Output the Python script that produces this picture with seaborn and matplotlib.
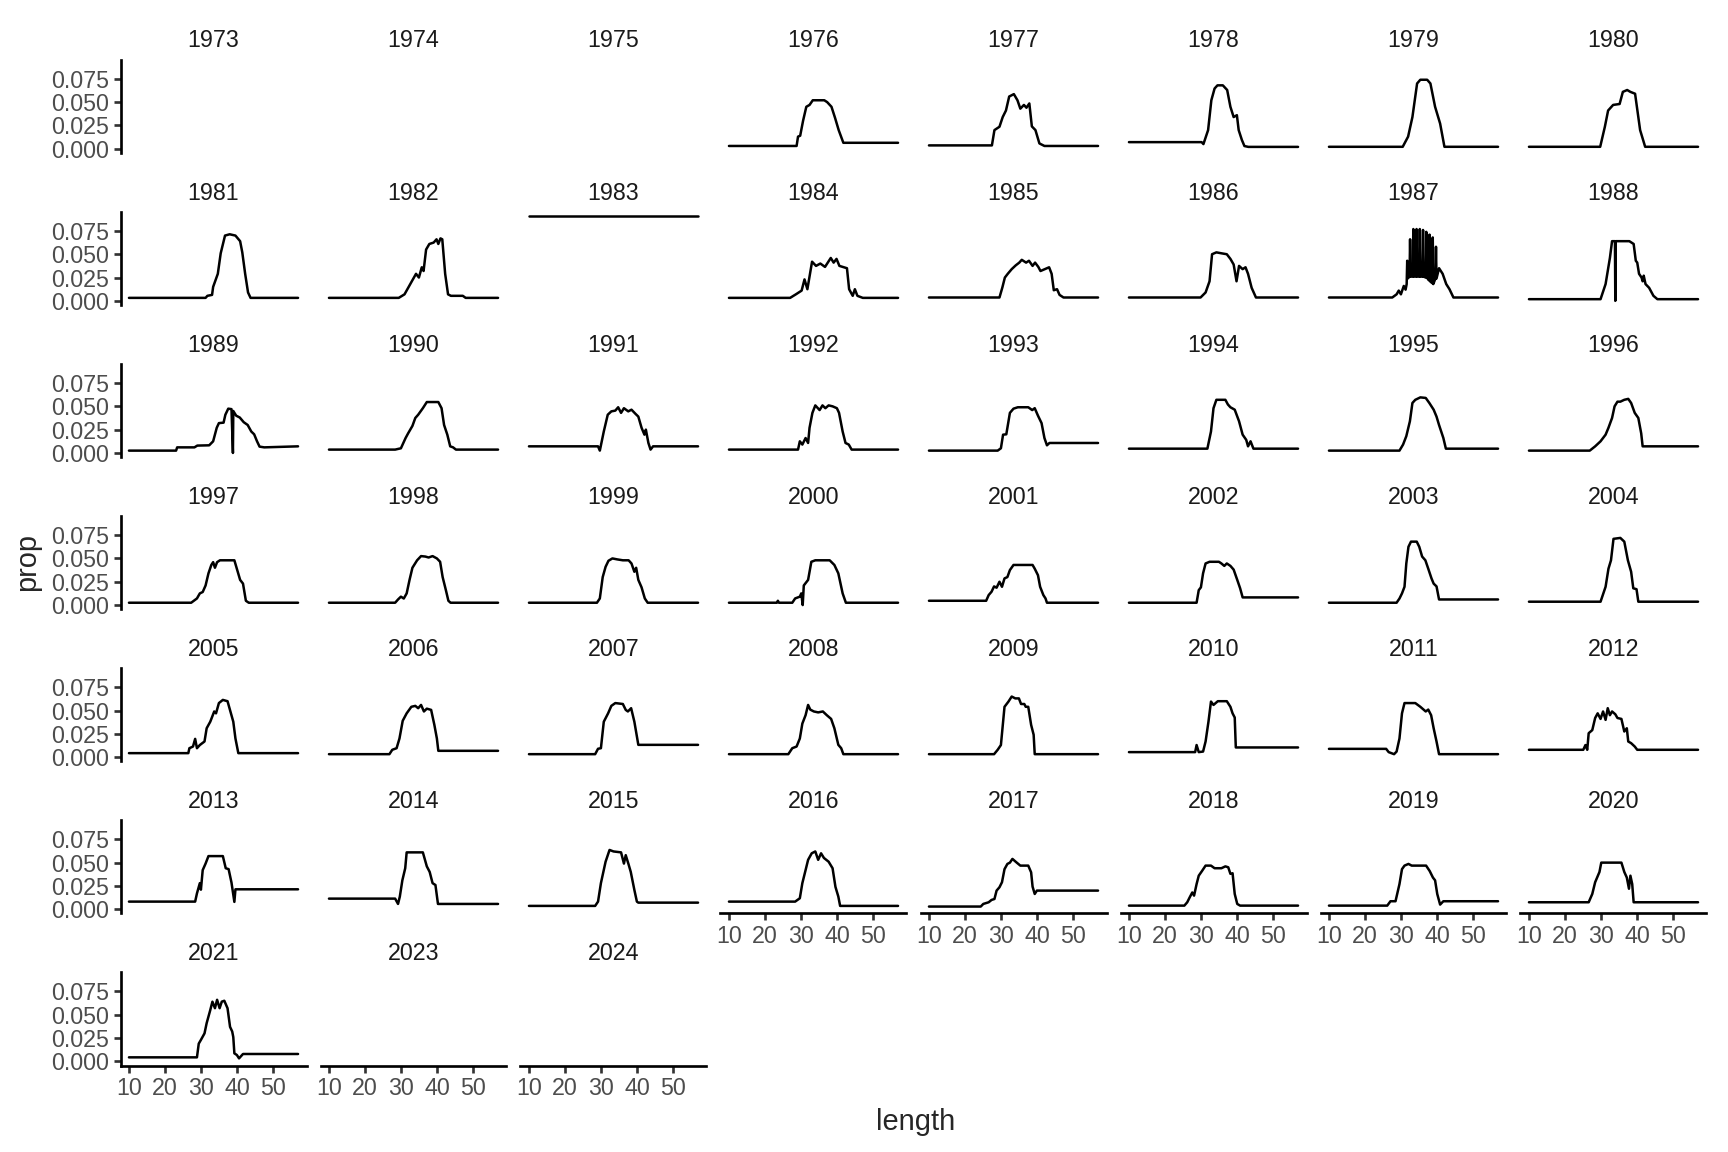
import matplotlib
matplotlib.use("Agg")
import matplotlib.pyplot as plt
import seaborn as sns
import pandas as pd

# panel order (facet_wrap, 8 columns)
years = list(range(1973, 2022)) + [2023, 2024]

x_ticks = [10, 20, 30, 40, 50]
y_ticks = [0.0, 0.025, 0.05, 0.075]
y_tick_labels = ["0.000", "0.025", "0.050", "0.075"]

# (length, prop); 1973-1975, 2023, 2024 have no line
curve_1976 = [(10, .003), (28.8, .003), (29.2, .013), (29.8, .014), (30.6, .030), (31.5, .045), (32.4, .047), (33.3, .052), (36.5, .052), (37.3, .050), (38.5, .045), (39.5, .033), (40.5, .020), (41.8, .0064), (57, .0064)]
curve_1977 = [(10, .0036), (27.5, .0036), (28.2, .020), (29.6, .0236), (30.5, .034), (31.4, .041), (32.3, .056), (33.6, .0586), (34.6, .052), (35.4, .043), (36.4, .047), (37.1, .044), (37.9, .0486), (38.6, .024), (39.6, .020), (40.7, .0057), (42.1, .003), (57, .003)]
curve_1978 = [(10, .0071), (30.2, .0071), (30.7, .005), (32.0, .020), (32.9, .052), (33.8, .0646), (34.6, .068), (36.1, .068), (37.3, .063), (38.2, .045), (39.1, .034), (40.0, .036), (40.5, .020), (41.4, .0093), (42.1, .0029), (43.2, .002), (57, .002)]
curve_1979 = [(10, .0021), (30.5, .0021), (32.0, .013), (33.2, .034), (34.5, .070), (35.4, .074), (37.3, .074), (38.2, .070), (39.5, .045), (40.9, .027), (42.1, .0021), (57, .0021)]
curve_1980 = [(10, .0021), (29.8, .0021), (31.1, .0236), (32.0, .041), (33.4, .047), (35.2, .048), (36.1, .061), (37.3, .063), (38.2, .061), (39.5, .059), (40.9, .020), (42.3, .0021), (57, .0021)]
curve_1981 = [(10, .0032), (31.3, .0032), (31.8, .0054), (33.1, .0064), (33.4, .015), (34.7, .029), (35.5, .051), (36.7, .070), (38.0, .0714), (39.6, .070), (40.9, .064), (41.5, .052), (42.3, .029), (43.1, .009), (43.8, .0032), (57, .0032)]
curve_1982 = [(10, .0032), (29.4, .0032), (31.0, .007), (32.6, .018), (34.2, .029), (35.0, .025), (35.8, .036), (36.3, .032), (37.0, .055), (37.9, .061), (39.1, .0625), (39.9, .066), (40.4, .061), (41.0, .067), (41.5, .066), (42.3, .029), (43.1, .007), (43.9, .0054), (47.2, .0054), (48.0, .0032), (57, .0032)]
curve_1983 = [(10, .0909), (57, .0909)]
curve_1984 = [(10, .0032), (27.0, .0032), (28.6, .007), (30.2, .011), (31.0, .023), (31.8, .0125), (33.1, .042), (34.2, .0375), (35.4, .040), (36.7, .0364), (38.3, .046), (39.1, .041), (39.9, .045), (40.7, .0375), (42.8, .035), (43.4, .0125), (44.4, .0054), (45.0, .0125), (45.7, .0054), (47.2, .0032), (57, .0032)]
curve_1985 = [(10, .0036), (29.6, .0036), (30.4, .0143), (31.1, .025), (31.9, .029), (33.0, .034), (34.1, .038), (35.1, .041), (35.8, .044), (37.0, .041), (37.8, .043), (38.8, .0375), (39.5, .041), (40.4, .0364), (41.0, .032), (42.2, .034), (43.4, .036), (44.1, .029), (44.7, .0114), (45.6, .0125), (46.3, .0064), (47.4, .0036), (57, .0036)]
curve_1986 = [(10, .0036), (29.9, .0036), (31.3, .009), (32.4, .021), (33.1, .050), (34.3, .052), (35.7, .051), (37.2, .050), (38.2, .045), (39.1, .039), (39.9, .021), (40.6, .0375), (41.6, .034), (42.4, .036), (43.1, .029), (44.1, .014), (45.3, .0036), (57, .0036)]
curve_1987 = [(10, .0036), (27.6, .0036), (28.8, .007), (29.4, .011), (30.0, .007), (30.8, .016), (31.3, .012), (31.6, .018), (31.75, .043), (31.9, .024),
              (32.4, .026), (32.55, .066), (32.7, .026), (33.3, .026), (33.45, .077), (33.6, .026), (34.2, .026), (34.35, .077), (34.5, .026),
              (35.1, .026), (35.25, .077), (35.4, .026), (36.0, .026), (36.15, .076), (36.3, .026), (36.9, .025), (37.05, .074), (37.2, .025),
              (37.8, .022), (37.95, .071), (38.1, .021), (38.7, .019), (38.85, .068), (39.0, .018), (39.6, .024), (39.75, .058), (39.9, .024),
              (40.6, .035), (41.6, .029), (42.6, .018), (43.5, .0125), (44.6, .0036), (57, .0036)]
curve_1988 = [(10, .0018), (29.9, .0018), (31.3, .018), (32.5, .046), (33.1, .064), (33.9, .064), (34.0, 0.0), (34.1, .064), (37.9, .064), (39.1, .061), (39.7, .043), (40.1, .041), (40.6, .029), (41.3, .025), (41.6, .021), (41.9, .027), (42.4, .018), (43.4, .014), (44.6, .0054), (45.7, .0018), (57, .0018)]
curve_1989 = [(10, .0025), (23.1, .0025), (23.4, .006), (28.2, .006), (29.0, .0079), (32.3, .0082), (33.4, .0125), (34.4, .027), (35.0, .032), (36.3, .0325), (36.8, .041), (37.6, .0475), (38.5, .047), (38.9, 0.0), (39.0, .045), (39.8, .040), (40.8, .038), (41.9, .033), (43.0, .030), (44.0, .023), (44.8, .020), (45.6, .0125), (46.3, .0068), (47.6, .006), (57, .0071)]
curve_1990 = [(10, .0036), (28.4, .0036), (30.0, .005), (31.3, .016), (32.0, .021), (33.2, .029), (34.0, .0375), (34.8, .041), (36.1, .048), (37.2, .0546), (40.4, .0546), (41.3, .048), (42.0, .030), (42.9, .0196), (43.7, .0071), (44.5, .006), (45.3, .0036), (57, .0036)]
curve_1991 = [(10, .0071), (29.2, .0071), (29.7, .0025), (30.8, .023), (31.9, .041), (32.9, .0446), (34.0, .0454), (34.8, .049), (35.6, .043), (36.4, .048), (37.6, .0446), (38.5, .0464), (39.6, .042), (40.4, .039), (41.3, .027), (42.1, .0196), (42.5, .025), (43.2, .0107), (43.8, .0036), (44.5, .0071), (57, .0071)]
curve_1992 = [(10, .0036), (29.2, .0036), (29.7, .0125), (30.4, .009), (31.3, .016), (32.0, .0107), (32.4, .027), (33.2, .043), (34.0, .051), (35.2, .046), (36.0, .051), (36.8, .048), (37.7, .051), (38.8, .050), (40.0, .048), (40.6, .043), (41.6, .023), (42.4, .0107), (43.3, .009), (44.1, .0036), (57, .0036)]
curve_1993 = [(10, .0025), (29.1, .0025), (30.0, .005), (30.6, .0196), (31.5, .020), (32.5, .043), (33.5, .0475), (34.7, .049), (37.6, .049), (38.7, .046), (39.4, .048), (40.3, .040), (41.3, .032), (42.1, .016), (42.8, .0082), (43.5, .0107), (57, .0107)]
curve_1994 = [(10, .0046), (31.8, .0046), (32.8, .023), (33.5, .048), (34.3, .057), (36.8, .057), (37.5, .052), (38.2, .049), (39.4, .0464), (40.6, .034), (41.6, .0196), (42.6, .014), (43.1, .0071), (43.8, .0125), (44.6, .0046), (57, .0046)]
curve_1995 = [(10, .0025), (29.6, .0025), (30.6, .009), (31.5, .018), (32.5, .034), (33.2, .0536), (34.0, .057), (35.4, .0596), (36.9, .059), (37.9, .0536), (39.1, .0464), (39.9, .039), (40.6, .030), (41.8, .016), (42.5, .0046), (57, .0046)]
curve_1996 = [(10, .0025), (26.9, .0025), (28.4, .0071), (29.9, .0125), (31.3, .0196), (32.1, .027), (33.1, .0375), (33.8, .050), (34.6, .055), (35.4, .055), (36.5, .057), (37.6, .058), (38.4, .0536), (39.4, .043), (40.4, .0375), (41.2, .021), (41.6, .0071), (57, .0071)]
curve_1997 = [(10, .0025), (27.3, .0025), (28.9, .0071), (29.7, .0125), (30.5, .014), (31.3, .021), (32.1, .034), (32.9, .043), (33.4, .046), (33.9, .040), (34.5, .046), (35.3, .048), (39.3, .048), (40.1, .0375), (40.9, .027), (41.7, .023), (42.5, .0046), (43.3, .0025), (57, .0025)]
curve_1998 = [(10, .0025), (28.4, .0025), (29.2, .006), (30.0, .009), (30.8, .007), (31.6, .0125), (32.4, .027), (33.2, .040), (34.5, .048), (35.6, .0525), (36.8, .052), (37.7, .051), (38.8, .0525), (40.0, .050), (40.9, .0464), (41.6, .030), (42.5, .016), (43.2, .0046), (43.8, .0025), (57, .0025)]
curve_1999 = [(10, .0025), (28.9, .0025), (29.7, .0071), (30.5, .030), (31.3, .041), (32.1, .0475), (33.2, .050), (34.5, .049), (36.1, .048), (37.7, .048), (38.5, .0446), (39.3, .0357), (39.8, .040), (40.4, .027), (41.3, .019), (42.2, .0071), (43.0, .0025), (57, .0025)]
curve_2000 = [(10, .0025), (23.3, .0025), (23.6, .0046), (23.9, .0025), (27.6, .0025), (28.4, .0071), (29.7, .009), (30.1, .0125), (30.5, 0.0), (30.8, .021), (32.0, .027), (32.9, .0464), (34.0, .048), (38.0, .048), (39.3, .043), (40.4, .034), (41.6, .0125), (42.5, .0025), (57, .0025)]
curve_2001 = [(10, .0046), (25.9, .0046), (26.6, .0107), (27.4, .0143), (28.1, .020), (28.8, .0186), (29.6, .025), (30.3, .0196), (31.0, .0286), (31.8, .030), (32.5, .0375), (33.5, .043), (38.8, .043), (39.4, .039), (40.3, .032), (40.9, .0196), (41.8, .0107), (42.4, .0071), (42.8, .0025), (57, .0025)]
curve_2002 = [(10, .0025), (28.8, .0025), (29.4, .016), (30.0, .019), (30.6, .034), (31.3, .0446), (32.4, .0464), (35.0, .0464), (35.7, .0446), (36.5, .042), (37.2, .0446), (38.2, .042), (39.1, .038), (40.1, .027), (40.9, .018), (41.6, .0082), (57, .0082)]
curve_2003 = [(10, .0025), (28.8, .0025), (29.6, .007), (30.3, .0125), (31.0, .0196), (31.5, .0446), (32.1, .0625), (32.8, .068), (34.4, .068), (35.1, .0625), (35.9, .052), (36.8, .048), (37.6, .039), (38.5, .0286), (39.1, .023), (39.9, .020), (40.6, .006), (57, .006)]
curve_2004 = [(10, .0036), (29.9, .0036), (31.3, .0196), (32.1, .039), (32.8, .048), (33.5, .071), (35.4, .072), (36.5, .068), (37.5, .048), (38.4, .0357), (39.0, .018), (39.9, .017), (40.4, .0036), (57, .0036)]
curve_2005 = [(10, .0043), (26.5, .0043), (26.8, .0096), (27.8, .0114), (28.4, .0196), (28.9, .0096), (29.7, .013), (31.0, .0168), (31.6, .031), (32.6, .038), (33.7, .049), (34.2, .047), (35.0, .058), (36.1, .0614), (37.4, .060), (38.2, .049), (39.0, .038), (39.6, .020), (40.4, .0043), (57, .0043)]
curve_2006 = [(10, .0032), (26.8, .0032), (27.6, .0079), (28.8, .0096), (29.6, .020), (30.5, .039), (31.6, .047), (32.9, .054), (34.0, .055), (34.8, .0525), (35.6, .056), (36.4, .049), (37.2, .052), (38.4, .0507), (39.3, .0346), (40.0, .020), (40.4, .0068), (57, .0068)]
curve_2007 = [(10, .0032), (28.4, .0032), (29.2, .009), (30.0, .0096), (30.8, .038), (32.0, .047), (32.9, .055), (34.0, .058), (36.1, .057), (36.9, .0507), (37.5, .049), (38.4, .0525), (39.3, .038), (40.1, .020), (40.4, .0132), (57, .0132)]
curve_2008 = [(10, .0032), (26.5, .0032), (27.6, .0096), (28.8, .0114), (29.7, .020), (30.4, .036), (31.3, .045), (32.0, .056), (32.6, .051), (33.6, .049), (34.8, .048), (36.1, .049), (37.2, .045), (38.4, .041), (39.3, .031), (40.4, .0132), (41.2, .0096), (41.8, .0032), (57, .0032)]
curve_2009 = [(10, .0032), (28.1, .0032), (29.1, .0079), (30.0, .013), (31.0, .054), (32.1, .0596), (33.0, .065), (34.0, .063), (35.0, .063), (35.6, .057), (36.5, .057), (36.9, .054), (37.6, .054), (38.4, .0346), (39.1, .024), (39.4, .0032), (57, .0032)]
curve_2010 = [(10, .0054), (28.4, .0054), (28.8, .013), (29.4, .0054), (30.6, .006), (31.3, .0168), (32.1, .038), (32.8, .0596), (33.5, .056), (34.7, .060), (37.2, .060), (38.2, .054), (38.8, .047), (39.4, .0425), (39.7, .0104), (57, .0104)]
curve_2011 = [(10, .0089), (25.9, .0089), (26.6, .0054), (28.1, .0032), (28.8, .006), (29.6, .020), (30.3, .047), (31.0, .058), (34.0, .058), (35.4, .054), (36.9, .049), (37.6, .051), (38.4, .045), (39.1, .031), (39.9, .0168), (40.6, .0032), (57, .0032)]
curve_2012 = [(10, .0079), (25.1, .0079), (25.7, .013), (26.2, .0079), (26.6, .0257), (27.6, .029), (28.4, .042), (29.1, .047), (29.9, .041), (30.6, .049), (31.3, .040), (31.9, .0525), (32.5, .045), (33.1, .049), (34.0, .046), (34.6, .042), (35.7, .041), (36.5, .0275), (37.2, .031), (37.6, .0168), (38.4, .015), (39.4, .0114), (40.1, .0079), (57, .0079)]
curve_2013 = [(10, .0082), (28.4, .0082), (28.9, .017), (29.7, .028), (30.0, .021), (30.5, .042), (31.3, .049), (32.1, .057), (36.1, .057), (36.9, .044), (37.7, .043), (38.5, .0286), (39.3, .0079), (39.6, .0214), (57, .0214)]
curve_2014 = [(10, .0114), (28.4, .0114), (29.2, .0057), (29.7, .0136), (30.4, .031), (31.2, .044), (31.6, .061), (36.1, .061), (37.2, .046), (38.0, .040), (38.8, .028), (39.6, .026), (40.3, .0057), (57, .0057)]
curve_2015 = [(10, .0036), (28.4, .0036), (29.2, .0082), (30.0, .028), (31.3, .051), (32.4, .0636), (33.5, .062), (35.6, .061), (36.4, .049), (36.9, .058), (37.7, .048), (38.3, .040), (39.3, .0207), (40.0, .0082), (40.4, .0071), (57, .0071)]
curve_2016 = [(10, .0082), (28.4, .0082), (29.7, .0118), (30.4, .028), (31.3, .042), (32.0, .053), (33.0, .060), (34.0, .062), (34.8, .053), (35.6, .060), (36.4, .055), (37.7, .051), (38.8, .044), (39.6, .024), (40.4, .0136), (40.9, .0036), (57, .0036)]
curve_2017 = [(10, .0029), (24.4, .0029), (25.1, .0057), (26.6, .0075), (27.4, .010), (28.2, .011), (28.8, .020), (29.6, .0236), (30.3, .029), (31.0, .043), (31.8, .0486), (32.5, .050), (33.2, .054), (34.4, .050), (35.4, .0468), (37.6, .0468), (38.4, .0396), (38.8, .0243), (39.4, .0164), (40.0, .020), (57, .020)]
curve_2018 = [(10, .0039), (25.4, .0039), (26.2, .0075), (26.9, .0129), (27.6, .018), (28.1, .0146), (28.8, .027), (29.4, .036), (30.3, .041), (31.3, .0468), (32.8, .0468), (33.8, .044), (35.7, .044), (36.8, .046), (37.6, .045), (38.2, .038), (38.8, .0386), (39.4, .0164), (40.1, .0057), (40.9, .0039), (57, .0039)]
curve_2019 = [(10, .0039), (26.2, .0039), (27.1, .0086), (28.5, .0086), (29.6, .027), (30.3, .043), (31.0, .0468), (32.1, .0486), (33.0, .0468), (37.0, .0468), (38.0, .041), (38.9, .034), (39.5, .031), (40.1, .0164), (40.9, .005), (41.8, .0086), (57, .0086)]
curve_2020 = [(10, .0075), (26.6, .0075), (27.6, .0164), (28.4, .029), (29.6, .040), (30.1, .050), (35.7, .050), (36.5, .040), (37.2, .034), (37.8, .022), (38.2, .036), (38.7, .027), (39.1, .0075), (57, .0075)]
curve_2021 = [(10, .0043), (28.9, .0043), (29.4, .019), (30.0, .023), (31.0, .030), (31.6, .041), (32.6, .055), (33.2, .064), (33.9, .057), (34.5, .066), (35.2, .057), (35.8, .064), (36.5, .065), (37.4, .057), (38.1, .037), (38.7, .032), (39.0, .026), (39.3, .0086), (40.0, .0068), (40.6, .0032), (41.7, .0079), (57, .0079)]

curves = {
    1976: curve_1976, 1977: curve_1977, 1978: curve_1978, 1979: curve_1979, 1980: curve_1980,
    1981: curve_1981, 1982: curve_1982, 1983: curve_1983, 1984: curve_1984, 1985: curve_1985,
    1986: curve_1986, 1987: curve_1987, 1988: curve_1988, 1989: curve_1989, 1990: curve_1990,
    1991: curve_1991, 1992: curve_1992, 1993: curve_1993, 1994: curve_1994, 1995: curve_1995,
    1996: curve_1996, 1997: curve_1997, 1998: curve_1998, 1999: curve_1999, 2000: curve_2000,
    2001: curve_2001, 2002: curve_2002, 2003: curve_2003, 2004: curve_2004, 2005: curve_2005,
    2006: curve_2006, 2007: curve_2007, 2008: curve_2008, 2009: curve_2009, 2010: curve_2010,
    2011: curve_2011, 2012: curve_2012, 2013: curve_2013, 2014: curve_2014, 2015: curve_2015,
    2016: curve_2016, 2017: curve_2017, 2018: curve_2018, 2019: curve_2019, 2020: curve_2020,
    2021: curve_2021,
}

rows = []
for yr, pts in curves.items():
    for x, y in pts:
        rows.append({"year": yr, "length": x, "prop": y})
df = pd.DataFrame(rows)

sns.set_style("ticks")
plt.rcParams["font.family"] = ["Liberation Sans", "DejaVu Sans"]

W, H, DPI = 1728, 1152, 180
fig, axes = plt.subplots(7, 8, figsize=(W / DPI, H / DPI), dpi=DPI)
panel_w, panel_h = 186, 93.3
fig.subplots_adjust(left=120.5 / W, right=1706.5 / W,
                    top=1 - 59.7 / H, bottom=1 - (59.7 + 6 * 152.1 + panel_h) / H,
                    wspace=14 / panel_w, hspace=(152.1 - panel_h) / panel_h)

ncols = 8
n = len(years)
small = 9.3
for i, ax in enumerate(axes.flat):
    if i >= n:
        ax.remove()
        continue
    yr = years[i]
    sub = df[df["year"] == yr]
    if len(sub):
        sns.lineplot(data=sub, x="length", y="prop", ax=ax, color="black",
                     linewidth=1.0, estimator=None, sort=False)
    ax.set_xlim(7.65, 59.35)
    ax.set_ylim(-0.00455, 0.0955)
    ax.set_xticks(x_ticks)
    ax.set_yticks(y_ticks)
    ax.set_yticklabels(y_tick_labels)
    ax.set_xlabel("")
    ax.set_ylabel("")

    first_col = i % ncols == 0
    col_bottom = i + ncols >= n
    ax.spines["top"].set_visible(False)
    ax.spines["right"].set_visible(False)
    ax.spines["left"].set_visible(first_col)
    ax.spines["bottom"].set_visible(col_bottom)
    for s in ("left", "bottom"):
        ax.spines[s].set_linewidth(1.07)
        ax.spines[s].set_color("black")
    ax.tick_params(axis="y", left=first_col, labelleft=first_col, length=2.75,
                   width=1.07, color="#333333", labelcolor="#4D4D4D",
                   labelsize=small, pad=2.0)
    ax.tick_params(axis="x", bottom=col_bottom, labelbottom=col_bottom, length=2.75,
                   width=1.07, color="#333333", labelcolor="#4D4D4D",
                   labelsize=small, pad=2.0)

    ax.annotate(str(yr), xy=(0.5, 1), xycoords="axes fraction",
                xytext=(0, 4.9), textcoords="offset points",
                ha="center", va="baseline", fontsize=small, color="#1A1A1A")

fig.text(916 / W, 1 - 1122 / H, "length", ha="center", va="center", fontsize=11.6)
fig.text(27.5 / W, 1 - 562 / H, "prop", ha="center", va="center",
         rotation=90, fontsize=11.6)

fig.savefig("out.png", dpi=DPI, facecolor="white")
